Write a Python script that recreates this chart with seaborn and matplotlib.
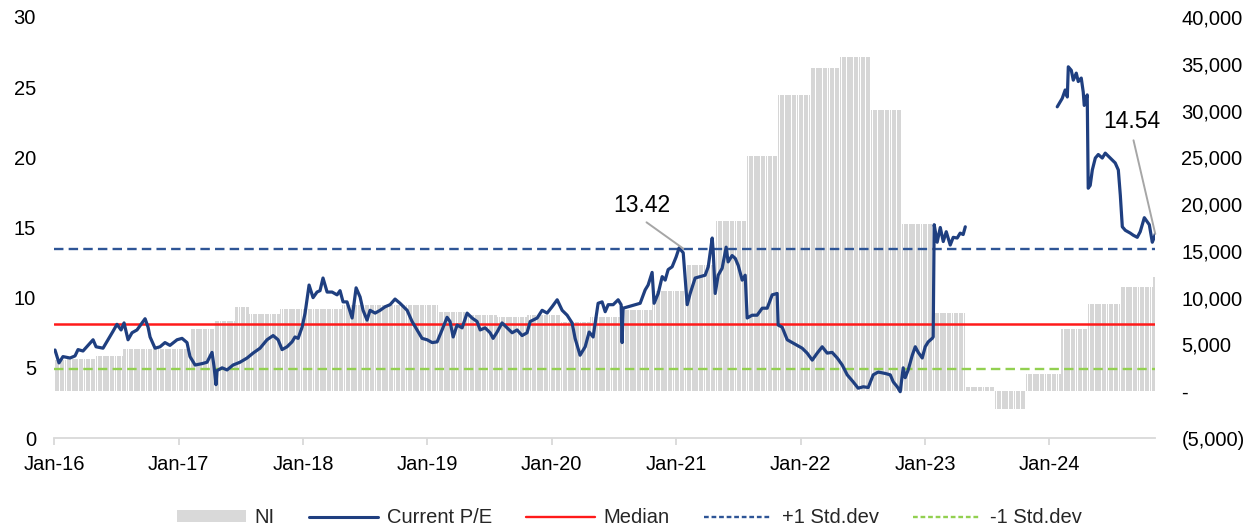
import numpy as np
import pandas as pd
import matplotlib
matplotlib.use("Agg")
import matplotlib.pyplot as plt
import matplotlib.dates as mdates
from matplotlib.ticker import FuncFormatter
from matplotlib.lines import Line2D
from matplotlib.patches import Patch
import seaborn as sns

# ---------------- data ----------------
# NI (trailing net income), step values: start date of each step and its value
ni_start = ['2016-01-01', '2016-02-08', '2016-04-30', '2016-07-22', '2017-02-04',
            '2017-04-17', '2017-04-18', '2017-06-16', '2017-07-27', '2017-10-26',
            '2018-04-25', '2019-02-01', '2019-04-21', '2019-07-24', '2019-10-20',
            '2020-01-25', '2020-04-23', '2020-07-19', '2020-10-21', '2021-02-02',
            '2021-04-28', '2021-07-28', '2021-10-27', '2022-01-29', '2022-04-27',
            '2022-07-27', '2022-10-26', '2023-01-22', '2023-05-02', '2023-07-23',
            '2023-10-24', '2024-02-04', '2024-04-20', '2024-07-27', '2024-10-31']
ni_value = [3300, 3400, 3800, 4500, 6600,
            9800, 7500, 9000, 8300, 8800,
            9200, 8500, 8200, 7950, 8100,
            7400, 7900, 8700, 10700, 13500,
            18200, 25100, 31700, 34500, 35700,
            30100, 17900, 8400, 500, -1900,
            1800, 6700, 9300, 11100, 12200]
ni_end = '2024-11-06'

# Current P/E: time (decimal year) and value; None marks the gap in the series
pe_year = [2016.008, 2016.040, 2016.072, 2016.129, 2016.169, 2016.193, 2016.233, 2016.273,
           2016.314, 2016.338, 2016.394, 2016.434, 2016.474, 2016.506, 2016.539, 2016.563,
           2016.595, 2016.627, 2016.667, 2016.707, 2016.732, 2016.756, 2016.772, 2016.812,
           2016.852, 2016.892, 2016.932, 2016.989, 2017.029, 2017.069, 2017.093, 2017.134,
           2017.190, 2017.230, 2017.270, 2017.286, 2017.302, 2017.310, 2017.351, 2017.391,
           2017.439, 2017.495, 2017.552, 2017.600, 2017.656, 2017.712, 2017.761, 2017.801,
           2017.833, 2017.873, 2017.913, 2017.937, 2017.962, 2017.994, 2018.018, 2018.050,
           2018.082, 2018.114, 2018.138, 2018.162, 2018.195, 2018.235, 2018.275, 2018.299,
           2018.323, 2018.355, 2018.396, 2018.428, 2018.460, 2018.484, 2018.516, 2018.540,
           2018.581, 2018.621, 2018.661, 2018.701, 2018.741, 2018.781, 2018.838, 2018.878,
           2018.918, 2018.958, 2018.999, 2019.039, 2019.079, 2019.119, 2019.159, 2019.183,
           2019.208, 2019.240, 2019.280, 2019.320, 2019.360, 2019.400, 2019.425, 2019.465,
           2019.505, 2019.529, 2019.561, 2019.601, 2019.642, 2019.682, 2019.722, 2019.762,
           2019.802, 2019.827, 2019.883, 2019.923, 2019.963, 2020.003, 2020.044, 2020.084,
           2020.124, 2020.164, 2020.188, 2020.228, 2020.269, 2020.301, 2020.333, 2020.373,
           2020.405, 2020.430, 2020.454, 2020.494, 2020.534, 2020.558, 2020.566, 2020.574,
           2020.614, 2020.671, 2020.711, 2020.751, 2020.775, 2020.807, 2020.823, 2020.856,
           2020.888, 2020.912, 2020.936, 2020.968, 2021.000, 2021.024, 2021.057, 2021.073,
           2021.089, 2021.113, 2021.153, 2021.193, 2021.233, 2021.258, 2021.290, 2021.298,
           2021.314, 2021.338, 2021.370, 2021.402, 2021.418, 2021.450, 2021.475, 2021.499,
           2021.531, 2021.555, 2021.571, 2021.611, 2021.651, 2021.692, 2021.732, 2021.772,
           2021.812, 2021.820, 2021.852, 2021.893, 2021.933, 2021.973, 2022.013, 2022.053,
           2022.094, 2022.134, 2022.174, 2022.214, 2022.254, 2022.295, 2022.335, 2022.375,
           2022.423, 2022.463, 2022.504, 2022.544, 2022.584, 2022.624, 2022.680, 2022.721,
           2022.745, 2022.777, 2022.801, 2022.825, 2022.841, 2022.865, 2022.898, 2022.922,
           2022.946, 2022.978, 2023.002, 2023.026, 2023.058, 2023.066, 2023.074, 2023.098,
           2023.123, 2023.147, 2023.171, 2023.203, 2023.227, 2023.259, 2023.283, 2023.307,
           2023.324, None,
           2024.063, 2024.103, 2024.127, 2024.144, 2024.152, 2024.176, 2024.192, 2024.216,
           2024.232, 2024.256, 2024.272, 2024.280, 2024.304, 2024.312, 2024.328, 2024.345,
           2024.369, 2024.393, 2024.425, 2024.449, 2024.489, 2024.529, 2024.554, 2024.570,
           2024.586, 2024.610, 2024.650, 2024.674, 2024.706, 2024.730, 2024.763, 2024.787,
           2024.803, 2024.827, 2024.843, 2024.851]
pe_value = [6.27, 5.35, 5.8, 5.7, 5.85, 6.3, 6.2, 6.6,
            7.0, 6.5, 6.4, 7.0, 7.6, 8.1, 7.7, 8.2,
            7.0, 7.5, 7.7, 8.2, 8.5, 7.9, 7.2, 6.4,
            6.5, 6.8, 6.6, 7.0, 7.1, 6.8, 5.8, 5.2,
            5.3, 5.4, 6.1, 5.1, 3.8, 4.8, 5.0, 4.85,
            5.2, 5.4, 5.7, 6.05, 6.4, 7.0, 7.3, 7.0,
            6.3, 6.5, 6.85, 7.2, 7.1, 7.9, 8.9, 10.9,
            10.0, 10.4, 10.5, 11.4, 10.4, 10.4, 10.2, 10.5,
            9.7, 9.7, 8.55, 10.7, 10.05, 9.1, 8.4, 9.1,
            8.9, 9.1, 9.35, 9.5, 9.9, 9.6, 9.1, 8.3,
            7.7, 7.1, 7.0, 6.8, 6.85, 7.7, 8.6, 8.3,
            7.2, 8.05, 7.85, 8.9, 8.55, 8.3, 7.7, 7.85,
            7.5, 7.1, 7.55, 8.2, 7.85, 7.5, 7.7, 7.3,
            7.5, 8.3, 8.55, 9.1, 8.9, 9.35, 9.85, 9.1,
            8.75, 8.2, 7.1, 5.9, 6.5, 7.55, 7.2, 9.6,
            9.7, 9.0, 9.5, 9.5, 9.85, 9.5, 6.8, 9.25,
            9.35, 9.5, 9.6, 10.55, 10.9, 11.8, 9.6, 10.3,
            11.5, 11.25, 12.0, 12.2, 12.9, 13.55, 13.2, 11.4,
            9.5, 10.3, 11.4, 11.5, 11.6, 12.2, 14.25, 13.3,
            10.3, 11.6, 12.1, 13.6, 12.55, 13.0, 12.8, 12.3,
            11.25, 11.6, 8.55, 8.75, 8.75, 9.25, 9.25, 10.2,
            10.3, 8.05, 7.9, 7.0, 6.8, 6.6, 6.4, 6.05,
            5.55, 6.05, 6.5, 6.05, 6.1, 5.7, 5.2, 4.5,
            4.0, 3.55, 3.65, 3.6, 4.5, 4.7, 4.6, 4.5,
            4.0, 3.65, 3.3, 5.0, 4.3, 4.85, 5.9, 6.5,
            6.1, 5.7, 6.5, 6.85, 7.1, 7.2, 15.2, 13.95,
            15.0, 14.0, 14.7, 13.75, 14.3, 14.25, 14.6, 14.5,
            15.05, None,
            23.6, 24.2, 24.8, 24.3, 26.45, 26.2, 25.5, 26.0,
            25.4, 25.65, 24.65, 23.7, 24.45, 17.8, 18.0, 19.1,
            19.95, 20.2, 19.95, 20.3, 19.95, 19.6, 19.1, 17.3,
            15.05, 14.8, 14.6, 14.45, 14.3, 14.7, 15.7, 15.4,
            15.2, 13.95, 14.3, 14.54]

pe_median = 8.1
pe_plus_std = 13.45
pe_minus_std = 4.9

ann_peak_label = '13.42'
ann_peak_year = 2021.057
ann_peak_value = 13.5
ann_last_label = '14.54'

legend_labels = ['NI', 'Current P/E', 'Median', '+1 Std.dev', '-1 Std.dev']
x_tick_years = list(range(2016, 2025))

# ---------------- style ----------------
C_BAR = '#d6d6d6'
C_PE = '#1f3f80'
C_MED = '#ff1a1a'
C_PLUS = '#2e5596'
C_MINUS = '#92d050'
C_AXIS = '#d9d9d9'
FS = 14.5
DASH = (0, (4, 2.2))

sns.set_style('white')
plt.rcParams['font.family'] = ['Liberation Sans', 'DejaVu Sans']


def year_to_date(y):
    return pd.Timestamp('2016-01-01') + pd.to_timedelta((y - 2016) * 365.25, unit='D')


fig = plt.figure(figsize=(12.47, 5.30), dpi=100)
ax = fig.add_axes([54 / 1247, 1 - 438 / 530, (1155 - 54) / 1247, (438 - 17) / 530])
ax2 = ax.twinx()
ax.set_zorder(ax2.get_zorder() + 1)
ax.patch.set_visible(False)

x0 = pd.Timestamp(ni_start[0])
x1 = pd.Timestamp(ni_end)
ax.set_xlim(x0, x1)

# ---- P/E line, split at the gap ----
segs = []
cur = []
for yr, v in zip(pe_year, pe_value):
    if yr is None:
        segs.append(cur)
        cur = []
    else:
        cur.append((year_to_date(yr), v))
segs.append(cur)
rows = []
for k, s in enumerate(segs):
    for d, v in s:
        rows.append({'date': d, 'pe': v, 'seg': k})
pe_df = pd.DataFrame(rows)

# horizontal reference lines
ax.axhline(pe_median, color=C_MED, lw=1.8, zorder=2)
ax.axhline(pe_plus_std, color=C_PLUS, lw=1.7, ls=DASH, zorder=2)
ax.axhline(pe_minus_std, color=C_MINUS, lw=1.7, ls=DASH, zorder=2)

sns.lineplot(data=pe_df, x='date', y='pe', units='seg', estimator=None, sort=False,
             color=C_PE, lw=2.3, ax=ax, zorder=3, legend=False)

# ---- NI bars (daily, trading days) ----
starts = pd.to_datetime(ni_start)
days = pd.bdate_range(x0, x1)
idx = np.searchsorted(starts.values, days.values, side='right') - 1
bar_vals = np.asarray(ni_value)[idx]
ax2.bar(days, bar_vals, width=1.3, color=C_BAR, linewidth=0, align='edge')
ax.set_xlim(x0, x1)

# ---- axes ----
ax.set_ylim(0, 30)
ax.set_yticks(range(0, 31, 5))
ax2.set_ylim(-5000, 40000)
ax2.set_yticks(range(-5000, 40001, 5000))


def ni_fmt(v, pos):
    if abs(v) < 1e-9:
        return '-'
    if v < 0:
        return f'({abs(v):,.0f})'
    return f'{v:,.0f}'


ax2.yaxis.set_major_formatter(FuncFormatter(ni_fmt))
ax.set_xticks([pd.Timestamp(f'{y}-01-01') for y in x_tick_years])
ax.xaxis.set_major_formatter(mdates.DateFormatter('%b-%y'))
ax.set_xlabel('')
ax.set_ylabel('')

for a in (ax, ax2):
    for sp in a.spines.values():
        sp.set_visible(False)
ax.spines['bottom'].set_visible(True)
ax.spines['bottom'].set_color(C_AXIS)
ax.spines['bottom'].set_linewidth(1.3)

ax.tick_params(axis='x', length=5, width=1.3, color=C_AXIS, pad=7, labelsize=FS,
               labelcolor='black', bottom=True)
ax.tick_params(axis='y', length=0, pad=13, labelsize=FS, labelcolor='black')
ax2.tick_params(axis='y', length=0, pad=19, labelsize=FS, labelcolor='black')
ax2.tick_params(axis='x', length=0, labelbottom=False)
ax.grid(False)
ax2.grid(False)

# ---- annotations ----
ax.annotate(ann_peak_label, xy=(year_to_date(ann_peak_year), ann_peak_value),
            xytext=(-29.7, 26.6), textcoords='offset points', ha='center', va='baseline',
            fontsize=16.5, color='black',
            arrowprops=dict(arrowstyle='-', color='#a6a6a6', lw=1.4, shrinkA=3, shrinkB=0,
                            relpos=(0.44, 0.0)), zorder=5)
last_date = year_to_date([y for y in pe_year if y is not None][-1])
last_val = [v for v in pe_value if v is not None][-1]
ax.annotate(ann_last_label, xy=(last_date, last_val),
            xytext=(-16.9, 76.3), textcoords='offset points', ha='center', va='baseline',
            fontsize=16.5, color='black',
            arrowprops=dict(arrowstyle='-', color='#a6a6a6', lw=1.4, shrinkA=3, shrinkB=0,
                            relpos=(0.5, 0.0)), zorder=5)

# ---- legend ----
handles = [Patch(facecolor='#d9d9d9', edgecolor='none'),
           Line2D([], [], color=C_PE, lw=2.2),
           Line2D([], [], color=C_MED, lw=1.7),
           Line2D([], [], color=C_PLUS, lw=1.7, ls=(0, (2, 1.2))),
           Line2D([], [], color=C_MINUS, lw=1.7, ls=(0, (2, 1.2)))]
fig.legend(handles, legend_labels, loc='center', bbox_to_anchor=(0.505, 0.023), ncol=5,
           frameon=False, fontsize=FS, handlelength=3.4, handletextpad=0.45,
           columnspacing=1.7, handleheight=0.55)

fig.savefig('out.png', dpi=100)
